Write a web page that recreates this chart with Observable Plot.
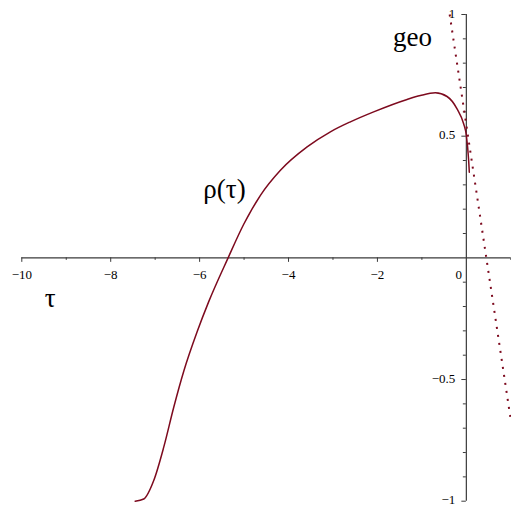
<!DOCTYPE html>
<html>
<head>
<meta charset="utf-8">
<script src="https://cdn.jsdelivr.net/npm/d3@7"></script>
<script src="https://cdn.jsdelivr.net/npm/@observablehq/plot@0.6"></script>
<style>
  html, body { margin: 0; padding: 0; background: #fff; }
  #chart svg { display: block; }
</style>
</head>
<body>
<div id="chart"></div>
<script>
// rho(tau) sampled along the solid curve
const tau = [-7.45, -7.257, -7.032, -6.807, -6.582, -6.357, -6.056, -5.795, -5.359, -5.008, -4.632, -4.182, -3.582, -3.058, -2.608, -2.085, -1.333, -1.034, -0.697, -0.434, -0.209, -0.061, 0, 0.052, 0.067];
const rho = [-1.0, -0.991, -0.915, -0.778, -0.614, -0.466, -0.304, -0.180, 0, 0.138, 0.257, 0.360, 0.456, 0.518, 0.559, 0.600, 0.651, 0.667, 0.678, 0.663, 0.612, 0.551, 0.503, 0.400, 0.352];

// straight "geo" line, dotted
const geoTau = [-0.375, 0.99];
const geoVal = [1.0, -0.655];

// axis ticks
const xMajor = [-10, -8, -6, -4, -2];
const xMinor = [-9, -7, -5, -3, -1, 1];
const yMajor = [-1, -0.5, 0.5, 1];
const yMinor = [-0.9, -0.8, -0.7, -0.6, -0.4, -0.3, -0.2, -0.1, 0.1, 0.2, 0.3, 0.4, 0.6, 0.7, 0.8, 0.9];
const xTickLabels = ["−10", "−8", "−6", "−4", "−2"];
const yTickLabels = ["−1", "−0.5", "0.5", "1"];

// curve labels
const labels = [
  {text: "geo", t: -1.21, v: 0.905},
  {text: "ρ(τ)", t: -5.44, v: 0.281},
  {text: "τ", t: -9.36, v: -0.165}
];

const curve = tau.map((t, i) => ({t, v: rho[i]}));
const geo = geoTau.map((t, i) => ({t, v: geoVal[i]}));

const red = "#7d0a1e";
const axisColor = "#3a3a3a";
const serif = "Liberation Serif";

const plot = Plot.plot({
  width: 511,
  height: 506,
  marginLeft: 21.3,
  marginRight: 0.7,
  marginTop: 14,
  marginBottom: 5.3,
  x: {domain: [-10, 1], axis: null},
  y: {domain: [-1, 1], axis: null},
  style: {background: "#fff", fontFamily: serif},
  marks: [
    // axes through the origin
    Plot.ruleY([0], {x1: -10, x2: 1, stroke: axisColor, strokeWidth: 1.2}),
    Plot.ruleX([0], {y1: -1, y2: 1, stroke: axisColor, strokeWidth: 1.2}),
    // x ticks hang below the axis
    Plot.ruleX(xMajor, {x: d => d, y1: 0, y2: 0, insetBottom: -4.5, stroke: axisColor}),
    Plot.ruleX(xMinor, {x: d => d, y1: 0, y2: 0, insetBottom: -2.5, stroke: axisColor}),
    // y ticks point left of the axis
    Plot.ruleY(yMajor, {y: d => d, x1: 0, x2: 0, insetLeft: -4.5, stroke: axisColor}),
    Plot.ruleY(yMinor, {y: d => d, x1: 0, x2: 0, insetLeft: -3, stroke: axisColor}),
    // tick labels
    Plot.text(xMajor, {x: d => d, y: 0, text: (d, i) => xTickLabels[i], dy: 17, fontSize: 13, fontFamily: serif, fill: "#000"}),
    Plot.text([0], {x: d => d, y: 0, text: () => "0", dx: -7.5, dy: 17, fontSize: 13, fontFamily: serif, fill: "#000"}),
    Plot.text(yMajor, {x: 0, y: d => d, text: (d, i) => yTickLabels[i], dx: -11, dy: -1, textAnchor: "end", fontSize: 13, fontFamily: serif, fill: "#000"}),
    // curves
    Plot.line(geo, {x: "t", y: "v", stroke: red, strokeWidth: 2, strokeDasharray: "2,6.1", strokeLinecap: "butt"}),
    Plot.line(curve, {x: "t", y: "v", stroke: red, strokeWidth: 1.5, curve: "monotone-x"}),
    // labels
    Plot.text(labels, {x: "t", y: "v", text: "text", fontSize: 27, fontFamily: serif, fill: "#000"})
  ]
});

document.getElementById("chart").append(plot);
</script>
</body>
</html>
